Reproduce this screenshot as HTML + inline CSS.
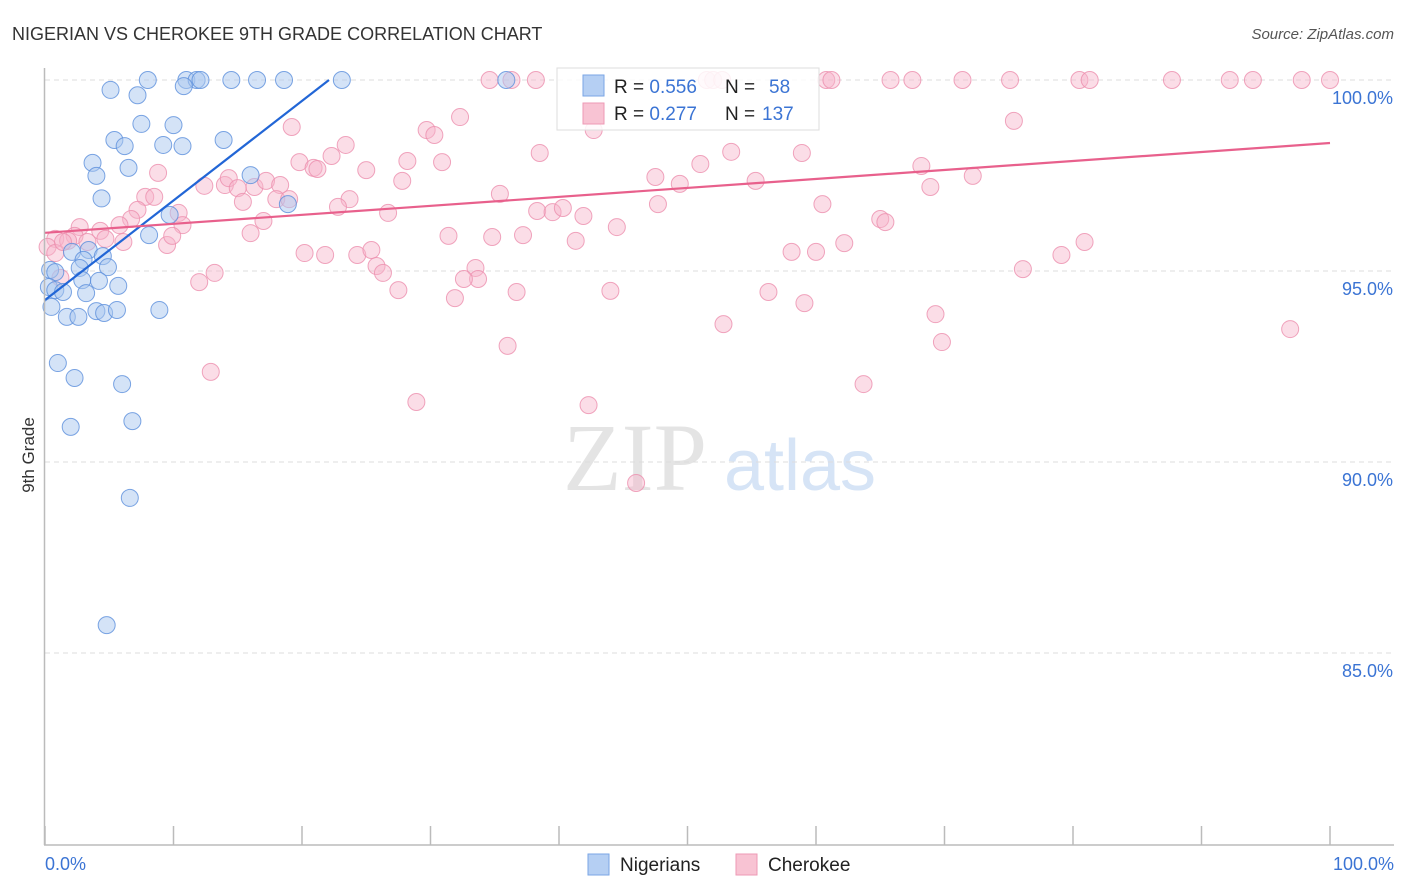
<!DOCTYPE html>
<html><head><meta charset="utf-8"><style>
body{margin:0;background:#fff;font-family:"Liberation Sans",sans-serif;}
#wrap{position:relative;width:1406px;height:892px;overflow:hidden;}
</style></head><body>
<div id="wrap">
<svg id="svg" width="1406" height="892" xmlns="http://www.w3.org/2000/svg">
<text x="12" y="40" font-size="18" fill="#333">NIGERIAN VS CHEROKEE 9TH GRADE CORRELATION CHART</text>
<text x="1394" y="39" font-size="15" fill="#555" font-style="italic" text-anchor="end">Source: ZipAtlas.com</text>
<text x="34" y="455" font-size="17" fill="#333" text-anchor="middle" transform="rotate(-90 34 455)">9th Grade</text>
<text x="635" y="490" font-size="96" fill="#e4e4e4" font-family="Liberation Serif,serif" text-anchor="middle">ZIP</text>
<text x="800" y="490" font-size="72" fill="#d6e4f6" text-anchor="middle">atlas</text>
<g id="grid"></g><g id="pts"></g><g id="lines"></g>
<line x1="44.5" y1="68" x2="44.5" y2="845" stroke="#bbb" stroke-width="1.5"/>
<line x1="44" y1="845" x2="1394" y2="845" stroke="#bbb" stroke-width="1.5"/>
<g id="ticks"></g>
<text x="45" y="870" font-size="18" fill="#3b74d4">0.0%</text>
<text x="1394" y="870" font-size="18" fill="#3b74d4" text-anchor="end">100.0%</text>
<g>
<rect x="557" y="68" width="262" height="62" fill="#fff" fill-opacity="0.85" stroke="#ddd"/>
<rect x="583" y="75" width="21" height="21" fill="#b5cff3" stroke="#7aa6e6"/>
<rect x="583" y="103" width="21" height="21" fill="#f8c3d3" stroke="#ee9ab4"/>
<text x="614" y="93" font-size="19" fill="#222">R = <tspan fill="#3b74d4">0.556</tspan><tspan x="725">N = </tspan><tspan x="769" fill="#3b74d4">58</tspan></text>
<text x="614" y="120" font-size="19" fill="#222">R = <tspan fill="#3b74d4"> 0.277</tspan><tspan x="725">N = </tspan><tspan x="762" fill="#3b74d4">137</tspan></text>
</g>
<g>
<rect x="588" y="854" width="21" height="21" fill="#b5cff3" stroke="#7aa6e6"/>
<text x="620" y="871" font-size="19" fill="#222">Nigerians</text>
<rect x="736" y="854" width="21" height="21" fill="#f8c3d3" stroke="#ee9ab4"/>
<text x="768" y="871" font-size="19" fill="#222">Cherokee</text>
</g>
</svg>
</div>
<script>
const yTicks=[100,95,90,85];
const yTickLabels=["100.0%","95.0%","90.0%","85.0%"];
const xTicks=[0,10,20,30,40,50,60,70,80,90,100];
const nigX=[8.0,11.0,11.8,12.1,14.5,16.5,18.6,23.1,35.9,5.1,7.2,10.8,7.5,10.0,5.4,6.2,9.2,10.7,13.9,3.7,4.0,6.5,16.0,4.4,18.9,9.7,8.1,3.4,2.1,3.0,2.7,4.5,4.9,0.4,0.8,2.9,4.2,5.7,0.3,0.8,1.4,3.2,0.5,1.7,2.6,4.0,4.6,5.6,8.9,1.0,2.3,6.0,2.0,6.8,6.6,4.8];
const nigY=[100,100,100,100,100,100,100,100,100,99.74,99.6,99.84,98.85,98.82,98.43,98.27,98.3,98.27,98.43,97.83,97.49,97.7,97.51,96.9,96.75,96.47,95.94,95.55,95.5,95.29,95.08,95.39,95.1,95.03,94.97,94.76,94.74,94.61,94.58,94.5,94.45,94.42,94.06,93.8,93.8,93.95,93.9,93.98,93.98,92.59,92.2,92.04,90.92,91.07,89.06,85.73];
const cheX=[34.6,36.3,38.2,51.5,52.0,52.7,60.8,61.2,65.8,67.5,71.4,75.1,80.5,81.3,87.7,92.2,94.0,97.8,100,42.6,42.7,19.2,23.4,29.7,30.3,32.3,75.4,38.5,53.4,58.9,22.3,19.8,20.9,21.2,25.0,28.2,30.9,68.2,51.0,47.5,49.4,55.3,68.9,72.2,8.8,7.8,8.5,12.4,14.0,14.3,15.0,16.3,17.2,18.3,18.0,19.0,15.4,23.7,22.8,27.8,35.4,26.7,38.3,39.5,40.3,41.9,47.7,60.5,10.4,10.7,17.0,16.0,7.2,6.7,5.8,4.3,2.7,2.3,0.8,1.8,3.3,4.7,6.1,9.5,9.9,31.4,34.8,37.2,44.5,41.3,65.0,65.4,80.9,79.1,76.1,58.1,60.0,62.2,20.2,21.8,24.3,25.4,25.8,26.3,13.2,12.0,33.5,33.7,32.6,31.9,27.5,36.7,44.0,56.3,59.1,69.3,52.8,69.8,36.0,96.9,12.9,63.7,28.9,42.3,46.0,0.2,0.8,1.2,1.4];
const cheY=[100,100,100,100,100,100,100,100,100,100,100,100,100,100,100,100,100,100,100,99.08,98.69,98.77,98.3,98.69,98.56,99.03,98.93,98.09,98.12,98.09,98.01,97.85,97.7,97.67,97.64,97.88,97.85,97.75,97.8,97.46,97.28,97.36,97.2,97.49,97.57,96.94,96.94,97.23,97.25,97.43,97.17,97.2,97.36,97.25,96.88,96.88,96.81,96.88,96.68,97.36,97.02,96.52,96.57,96.54,96.65,96.44,96.75,96.75,96.52,96.2,96.31,95.99,96.6,96.36,96.2,96.05,96.15,95.92,95.84,95.79,95.76,95.84,95.76,95.68,95.92,95.92,95.89,95.94,96.15,95.79,96.36,96.28,95.76,95.42,95.05,95.5,95.5,95.73,95.47,95.42,95.42,95.55,95.13,94.95,94.95,94.71,95.08,94.79,94.79,94.29,94.5,94.45,94.48,94.45,94.16,93.87,93.61,93.14,93.04,93.48,92.36,92.04,91.57,91.49,89.45,95.63,95.47,94.82,95.76];
const nigTrend=[[0,94.24],[22.1,100]];
const cheTrend=[[0,96.0],[100,98.35]];
const NS="http://www.w3.org/2000/svg";
function sx(v){return 45+v*12.85;}
function sy(v){return 80+(100-v)*38.2;}
function mk(tag,attrs,parent){const e=document.createElementNS(NS,tag);for(const k in attrs)e.setAttribute(k,attrs[k]);parent.appendChild(e);return e;}
const grid=document.getElementById('grid');
yTicks.forEach((t,i)=>{
  const l=mk('line',{x1:45,x2:1394,y1:sy(t),y2:sy(t),stroke:'#ddd','stroke-dasharray':'5,4'},grid);
  
  
  const tx=mk('text',{x:1393,y:sy(t)+24,'font-size':18,fill:'#3b74d4','text-anchor':'end'},grid);
  tx.textContent=yTickLabels[i];
  
  
});
const ticks=document.getElementById('ticks');
xTicks.forEach(t=>{
  const l=mk('line',{x1:sx(t),x2:sx(t),y1:826,y2:845,stroke:'#bbb','stroke-width':1.5},ticks);
  
  
});
const pts=document.getElementById('pts');
cheX.forEach((x,i)=>{
  const c=mk('circle',{cx:sx(x),cy:sy(cheY[i]),r:8.5,fill:'#f6b4c9','fill-opacity':0.45,stroke:'#ec8fae','stroke-opacity':0.8,'stroke-width':1},pts);
  
  
});
nigX.forEach((x,i)=>{
  const c=mk('circle',{cx:sx(x),cy:sy(nigY[i]),r:8.5,fill:'#a9c7f0','fill-opacity':0.5,stroke:'#5b8fdc','stroke-opacity':0.8,'stroke-width':1},pts);
  
  
});
const lines=document.getElementById('lines');
const l1=mk('line',{x1:sx(nigTrend[0][0]),y1:sy(nigTrend[0][1]),x2:sx(nigTrend[1][0]),y2:sy(nigTrend[1][1]),stroke:'#2266d6','stroke-width':2.2},lines);


const l2=mk('line',{x1:sx(cheTrend[0][0]),y1:sy(cheTrend[0][1]),x2:sx(cheTrend[1][0]),y2:sy(cheTrend[1][1]),stroke:'#e8608c','stroke-width':2.2},lines);


</script>
</body></html>
